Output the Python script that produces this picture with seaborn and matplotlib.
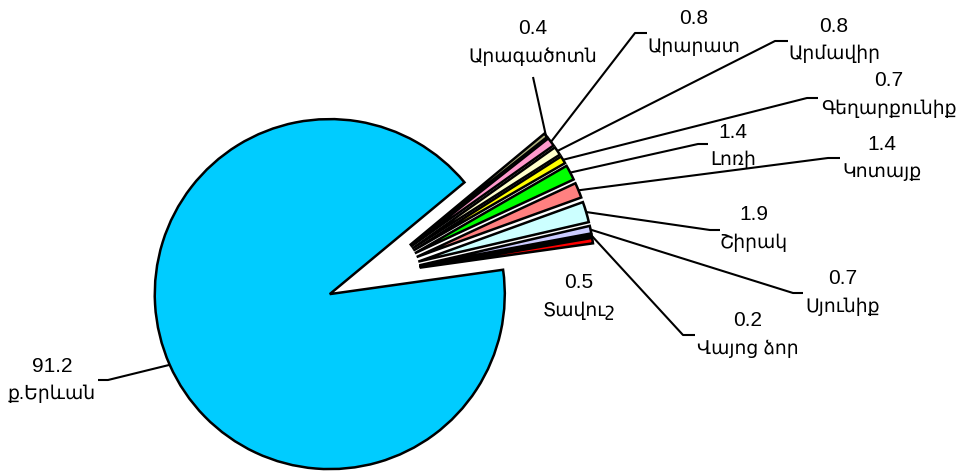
import numpy as np
import matplotlib
matplotlib.use("Agg")
import matplotlib.pyplot as plt
import seaborn as sns

# data
regions = ['ք.Երևան', 'Արագածոտն', 'Արարատ', 'Արմավիր', 'Գեղարքունիք', 'Լոռի',
           'Կոտայք', 'Շիրակ', 'Սյունիք', 'Վայոց ձոր', 'Տավուշ']
shares = [91.2, 0.4, 0.8, 0.8, 0.7, 1.4, 1.4, 1.9, 0.7, 0.2, 0.5]
colors = ['#00CCFF', '#B3B380', '#FF99CC', '#FFFFCC', '#FFFF00', '#00FF00',
          '#FF8080', '#CCFFFF', '#CCCCFF', '#000000', '#FF0000']

# layout (pixel positions of labels and leader elbows)
label_pos = [(52, 380), (533, 43), (694, 33), (834, 40), (889, 95), (733, 146),
             (882, 158), (754, 229), (843, 293), (748, 335), (579, 297)]
elbows = [[(108, 380), (98, 380)], [(533, 77)], [(635, 33), (647, 33)],
          [(775, 41), (788, 41)], [(807, 98), (818, 98)], [(698, 144), (708, 144)],
          [(828, 158), (840, 158)], [(710, 230), (720, 230)], [(793, 293), (803, 293)],
          [(683, 335), (695, 335)], []]

W, H = 959, 476
CX, CY, R = 373, 275, 175
EXPLODE = 0.27


def px(x, y):
    return (x - CX) / R, (CY - y) / R


sns.set_theme(style="white")
plt.rcParams['font.family'] = ['Liberation Sans', 'DejaVu Sans']

fig = plt.figure(figsize=(W / 100, H / 100), dpi=100)
ax = fig.add_axes([0, 0, 1, 1])

wedges, _ = ax.pie(shares, colors=colors, explode=[EXPLODE] * len(shares),
                   startangle=8, counterclock=False, radius=1,
                   wedgeprops=dict(edgecolor='black', linewidth=1.8))

for w, name, val, pos, elb in zip(wedges, regions, shares, label_pos, elbows):
    # value on top, region name below
    ax.text(*px(pos[0], pos[1] - 14), f'{val}', ha='center', va='center',
            fontsize=15, color='black')
    ax.text(*px(pos[0], pos[1] + 14), name, ha='center', va='center',
            fontsize=13.5, color='black')
    if elb:
        mid = np.deg2rad((w.theta1 + w.theta2) / 2)
        cx, cy = w.center
        xs = [cx + np.cos(mid)] + [px(*p)[0] for p in elb]
        ys = [cy + np.sin(mid)] + [px(*p)[1] for p in elb]
        ax.plot(xs, ys, color='black', linewidth=1.5, solid_capstyle='butt')

ax.set_xlim(-CX / R, (W - CX) / R)
ax.set_ylim((CY - H) / R, CY / R)
ax.set_aspect('auto')
ax.axis('off')

fig.savefig('out.png', dpi=100, facecolor='white')
